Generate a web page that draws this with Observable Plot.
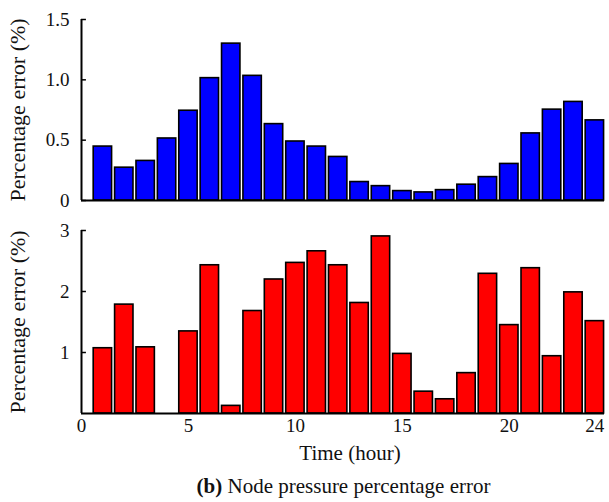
<!DOCTYPE html>
<html>
<head>
<meta charset="utf-8">
<script src="https://cdn.jsdelivr.net/npm/d3@7"></script>
<script src="https://cdn.jsdelivr.net/npm/@observablehq/plot@0.6"></script>
<style>
  html, body { margin: 0; padding: 0; background: #fff; }
  #chart { width: 609px; font-family: "Liberation Serif", "Times New Roman", serif; color: #111; }
  #chart svg { display: block; }
  #caption { text-align: center; font-size: 21px; line-height: 24px; margin-top: 0px; padding-left: 78px; white-space: nowrap; }
</style>
</head>
<body>
<div id="chart"></div>
<script>
const hours = [1,2,3,4,5,6,7,8,9,10,11,12,13,14,15,16,17,18,19,20,21,22,23,24];
const flowError = [0.447,0.272,0.328,0.514,0.744,1.014,1.30,1.033,0.633,0.489,0.447,0.361,0.153,0.119,0.078,0.067,0.086,0.131,0.194,0.303,0.556,0.753,0.817,0.664];
const pressureError = [1.07,1.785,1.085,0,1.346,2.43,0.125,1.68,2.197,2.469,2.659,2.43,1.812,2.903,0.977,0.358,0.233,0.662,2.29,1.449,2.382,0.939,1.986,1.514];
const topTicks = [0, 0.5, 1.0, 1.5];
const topTickLabels = ["0", "0.5", "1.0", "1.5"];
const bottomTicks = [1, 2, 3];
const bottomTickLabels = ["1", "2", "3"];
const xTicks = [0, 5, 10, 15, 20, 24];
const yTitle = "Percentage error (%)";
const xTitle = "Time (hour)";

const half = 0.43;
const font = "Liberation Serif";

function panel(values, color, yDomain, yTicks, yLabels, opts) {
  const data = hours.map((h, i) => ({h, v: values[i]}));
  const tickLen = 0.23;
  return Plot.plot({
    width: 609,
    height: opts.height,
    marginLeft: 81,
    marginRight: 5,
    marginTop: opts.marginTop,
    marginBottom: opts.marginBottom,
    style: {fontFamily: font, fontSize: "19px", color: "#111", background: "#fff", overflow: "visible"},
    x: {domain: [0, 24.45], axis: opts.showX ? undefined : null},
    y: {domain: yDomain},
    marks: [
      Plot.rectY(data, {x1: d => d.h - half, x2: d => d.h + half, y: "v", fill: color, stroke: "#000", strokeWidth: 1.6}),
      Plot.ruleY(yTicks, {x1: 0, x2: tickLen, stroke: "#000", strokeWidth: 1.5}),
      Plot.ruleX([0], {stroke: "#000", strokeWidth: 2}),
      Plot.ruleY([0], {stroke: "#000", strokeWidth: 2}),
      Plot.axisY({ticks: yTicks, tickSize: 0, tickPadding: 12, fontSize: 19, label: null,
                  tickFormat: d => yLabels[yTicks.indexOf(d)]}),
      Plot.text([yTitle], {frameAnchor: "left", textAnchor: "middle", lineAnchor: "middle", rotate: -90, dx: -63.5, fontSize: 22, fill: "#111"}),
      opts.showX ? Plot.axisX({ticks: xTicks, tickSize: 0, tickPadding: 5, fontSize: 19, label: null, tickFormat: d => String(d)}) : null,
      opts.showX ? Plot.text([xTitle], {frameAnchor: "bottom", dy: 46, dx: 7, fontSize: 21, fill: "#111"}) : null
    ]
  });
}

const chart = document.getElementById("chart");
chart.append(panel(flowError, "#0000ff", [0, 1.5], topTicks, topTickLabels, {height: 212, marginTop: 19, marginBottom: 12, showX: false}));
chart.append(panel(pressureError, "#ff0000", [0, 3], bottomTicks, bottomTickLabels, {height: 262, marginTop: 18, marginBottom: 61, showX: true}));
const cap = document.createElement("div");
cap.id = "caption";
cap.innerHTML = "<b>(b)</b> Node pressure percentage error";
chart.append(cap);
</script>
</body>
</html>
